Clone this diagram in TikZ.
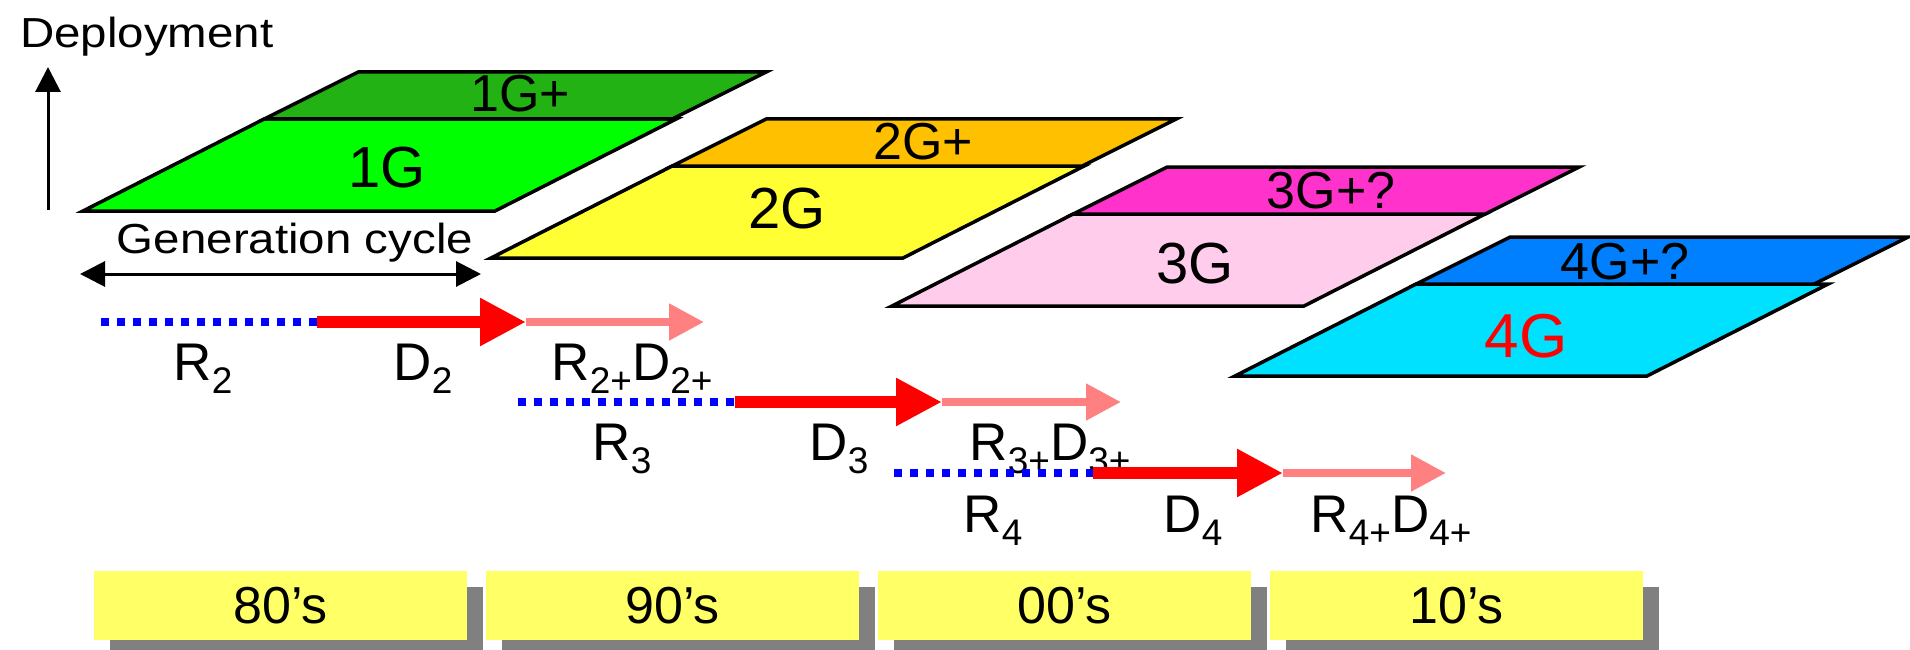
\documentclass[tikz,border=0pt]{standalone}
\usepackage{fontspec}
\setmainfont{Liberation Sans}
\usetikzlibrary{arrows.meta,shadows}
\definecolor{gOneUp}{RGB}{34,178,20}
\definecolor{gOneLo}{RGB}{0,255,0}
\definecolor{gTwoUp}{RGB}{255,192,0}
\definecolor{gTwoLo}{RGB}{255,255,51}
\definecolor{gThreeUp}{RGB}{255,51,204}
\definecolor{gThreeLo}{RGB}{255,204,236}
\definecolor{gFourUp}{RGB}{0,128,255}
\definecolor{gFourLo}{RGB}{0,224,255}
\definecolor{pinkc}{RGB}{255,128,128}
\definecolor{boxyellow}{RGB}{255,255,102}
\definecolor{shadowgray}{RGB}{128,128,128}
\newcommand{\lsub}[1]{\raisebox{-13pt}{\fontsize{37}{37}\selectfont #1}}
\newcommand{\genplane}[5]{%
  \draw[plane,fill=#3] (#1,#2) -- ++(412,0) -- ++(181.2,-92) -- ++(-412,0) -- cycle;
  \draw[plane,fill=#4] (#1,#2) ++(181.2,-92) -- ++(#5,0) -- ++(94,-47) -- ++(-#5,0) -- cycle;
}
\begin{document}
\begin{tikzpicture}[x=1pt,y=-1pt,
  plane/.style={draw=black, line width=3.5pt, line join=miter},
  lowlbl/.style={font=\fontsize{58}{60}\selectfont, anchor=base, inner sep=0pt},
  uplbl/.style={font=\fontsize{52}{54}\selectfont, anchor=base, inner sep=0pt},
  rowlbl/.style={font=\fontsize{53}{55}\selectfont, anchor=base, inner sep=0pt},
  axislbl/.style={font=\fontsize{42}{44}\selectfont, anchor=base, inner sep=0pt},
  axis/.style={draw=black, line width=3pt, -{Triangle[length=25pt,width=25pt]}},
  twoway/.style={draw=black, line width=3pt, {Triangle[length=25pt,width=25pt]}-{Triangle[length=25pt,width=25pt]}},
  reddev/.style={draw=red, line width=12pt, -{Triangle[length=46pt,width=45pt]}},
  pinkdev/.style={draw=pinkc, line width=8pt, -{Triangle[length=35pt,width=35pt]}},
  research/.style={draw=blue, line width=8pt, dash pattern=on 8pt off 8pt},
  yearbox/.style={fill=boxyellow, minimum width=373pt, minimum height=69pt, inner sep=0pt,
    font=\fontsize{52}{54}\selectfont,
    drop shadow={shadow xshift=16pt, shadow yshift=-16pt, fill=shadowgray, opacity=1}}
]
\useasboundingbox (0,0) rectangle (1910,650);

% generation planes
\genplane{83}{211}{gOneLo}{gOneUp}{408}
\genplane{491}{258}{gTwoLo}{gTwoUp}{410}
\genplane{892}{306}{gThreeLo}{gThreeUp}{412}
\genplane{1235}{376}{gFourLo}{gFourUp}{398}

\node[lowlbl] (l1g) at (387,187) {1G};
\node[uplbl] (l1gp) at (520,112) {1G+};
\node[lowlbl] (l2g) at (787,228) {2G};
\node[uplbl] (l2gp) at (923,159) {2G+};
\node[lowlbl] (l3g) at (1195,283) {3G};
\node[uplbl] (l3gp) at (1331,208) {3G+?};
\node[lowlbl, font=\fontsize{62}{64}\selectfont, text=red] (l4g) at (1526,357) {4G};
\node[uplbl] (l4gp) at (1625,279) {4G+?};

% axes
\node[axislbl, anchor=base west] (dep) at (20,48) {\scalebox{1.13}[1]{Deployment}};
\coordinate (ybot) at (48,210);
\coordinate (ytop) at (48,67);
\draw[axis] (ybot) -- (ytop);
\node[axislbl] (gen) at (295,253) {\scalebox{1.13}[1]{Generation cycle}};
\coordinate (gl) at (80,274);
\coordinate (gr) at (481,274);
\draw[twoway] (gl) -- (gr);

% row 1
\coordinate (r2a) at (101,322);
\coordinate (d2a) at (317,322);
\coordinate (d2b) at (526,322);
\coordinate (p2b) at (704,322);
\draw[research] (r2a) -- (d2a);
\draw[reddev] (d2a) -- (d2b);
\draw[pinkdev] (d2b) -- (p2b);
\node[rowlbl] (lr2) at (203,380) {R\lsub{2}};
\node[rowlbl] (ld2) at (423,380) {D\lsub{2}};
\node[rowlbl] (lp2) at (632,380) {R\lsub{2+}D\lsub{2+}};

% row 2
\coordinate (r3a) at (518,402);
\coordinate (d3a) at (735,402);
\coordinate (d3b) at (942,402);
\coordinate (p3b) at (1121,402);
\draw[research] (r3a) -- (d3a);
\draw[reddev] (d3a) -- (d3b);
\draw[pinkdev] (d3b) -- (p3b);
\node[rowlbl] (lr3) at (622,460) {R\lsub{3}};
\node[rowlbl] (ld3) at (839,460) {D\lsub{3}};
\node[rowlbl] (lp3) at (1050,460) {R\lsub{3+}D\lsub{3+}};

% row 3
\coordinate (r4a) at (894,473);
\coordinate (d4a) at (1093,473);
\coordinate (d4b) at (1283,473);
\coordinate (p4b) at (1446,473);
\draw[research] (r4a) -- (d4a);
\draw[reddev] (d4a) -- (d4b);
\draw[pinkdev] (d4b) -- (p4b);
\node[rowlbl] (lr4) at (993,532) {R\lsub{4}};
\node[rowlbl] (ld4) at (1193,532) {D\lsub{4}};
\node[rowlbl] (lp4) at (1391,532) {R\lsub{4+}D\lsub{4+}};

% decades
\node[yearbox] (b80) at (280.5,605.5) {80’s};
\node[yearbox] (b90) at (672.5,605.5) {90’s};
\node[yearbox] (b00) at (1064.5,605.5) {00’s};
\node[yearbox] (b10) at (1456.5,605.5) {10’s};
\end{tikzpicture}
\end{document}
